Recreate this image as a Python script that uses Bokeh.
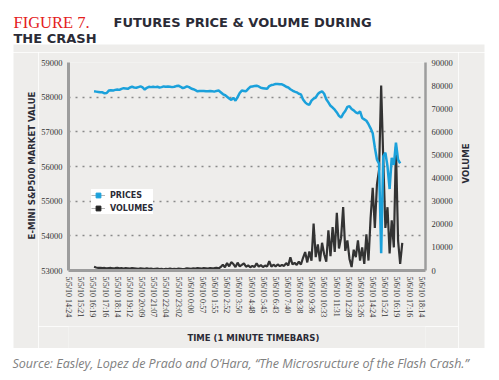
from datetime import datetime
from math import pi

from bokeh.plotting import figure
from bokeh.layouts import row, column
from bokeh.models import (Range1d, LinearAxis, FixedTicker, Label, BoxAnnotation,
                          Legend, LegendItem, NumeralTickFormatter)
from bokeh.embed import file_html
from bokeh.resources import INLINE

# ---------------- data ----------------
tick_labels = [
    "5/5/10 14:24", "5/5/10 15:21", "5/5/10 16:19", "5/5/10 17:16", "5/5/10 18:14",
    "5/5/10 19:12", "5/5/10 20:09", "5/5/10 21:07", "5/5/10 22:04", "5/5/10 23:02",
    "5/6/10 0:00", "5/6/10 0:57", "5/6/10 1:55", "5/6/10 2:52", "5/6/10 3:50",
    "5/6/10 4:48", "5/6/10 5:45", "5/6/10 6:43", "5/6/10 7:40", "5/6/10 8:38",
    "5/6/10 9:36", "5/6/10 10:33", "5/6/10 11:31", "5/6/10 12:28", "5/6/10 13:26",
    "5/6/10 14:24", "5/6/10 15:21", "5/6/10 16:19", "5/6/10 17:16", "5/6/10 18:14",
]
first_bar = "5/5/10 16:24"   # first sampled bar
bar_step_min = 10            # one value every 10 minutes

prices = [
    58170, 58160, 58150, 58140, 58140, 58110, 58120, 58190, 58200, 58190,
    58210, 58220, 58210, 58240, 58260, 58250, 58240, 58280, 58300, 58280,
    58270, 58290, 58310, 58280, 58220, 58270, 58300, 58290, 58300, 58290,
    58300, 58280, 58290, 58310, 58300, 58310, 58300, 58290, 58300, 58320,
    58330, 58300, 58260, 58280, 58310, 58290, 58250, 58230, 58200, 58170,
    58180, 58180, 58180, 58170, 58170, 58180, 58170, 58160, 58180, 58190,
    58140, 58090, 58060, 58010, 57960, 57920, 57980, 57900, 58000, 58120,
    58190, 58180, 58170, 58240, 58300, 58310, 58320, 58330, 58310, 58270,
    58260, 58250, 58240, 58320, 58350, 58360, 58380, 58380, 58370, 58370,
    58340, 58300, 58280, 58230, 58190, 58160, 58140, 58100, 58080, 57930,
    57850, 57800, 57780, 57900, 57960, 57990, 58090, 58140, 58170, 58100,
    57940, 57850, 57750, 57700, 57640, 57560, 57460, 57410, 57520, 57600,
    57720, 57740, 57660, 57620, 57560, 57530, 57590, 57400, 57360, 57320,
    57220, 57100, 56960, 56550, 56200, 56080, 53500, 56290, 56400, 56000,
    55350, 56250, 56050, 56690, 56200, 56090,
]

volumes = [
    1600, 1300, 1100, 1200, 1000, 1100, 900, 1000, 1100, 900,
    1000, 1200, 900, 1000, 800, 1000, 900, 800, 1000, 900,
    800, 700, 900, 800, 700, 900, 700, 800, 600, 700,
    800, 600, 700, 500, 700, 600, 800, 600, 700, 600,
    800, 700, 600, 700, 900, 800, 700, 900, 800, 1000,
    900, 800, 1000, 900, 800, 1100, 900, 1000, 1200, 900,
    1500, 2500, 1400, 3200, 1800, 3600, 2800, 1500, 3400, 1800,
    2400, 3100, 1600, 2200, 1400, 2000, 1500, 3100, 1700, 2300,
    1500, 2100, 1800, 4000, 1700, 2500, 1800, 2600, 1900, 2400,
    2000, 3200, 2200, 5700, 2600, 3300, 2400, 3800, 2600, 5500,
    8000, 3500, 8200, 4200, 20300, 5800, 11300, 4000, 12000, 7000,
    3800, 17400, 6200, 18800, 8000, 25000, 9500, 14000, 27400, 8500,
    13000, 5000, 1500, 9000, 5800, 13000, 4300, 10000, 2900, 15600,
    4300, 22800, 35800, 18400, 37200, 43500, 80000, 47800, 18400, 27400,
    7400, 21700, 10000, 53500, 13000, 2900, 12000,
]

price_ticks = [53000, 54000, 55000, 56000, 57000, 58000, 59000]
volume_ticks = [0, 10000, 20000, 30000, 40000, 50000, 60000, 70000, 80000, 90000]

# ---------------- time axis (minutes since first label) ----------------
FMT = "%m/%d/%y %H:%M"
t0 = datetime.strptime(tick_labels[0], FMT)


def minutes(s):
    return int(round((datetime.strptime(s, FMT) - t0).total_seconds() / 60))


tick_pos = [minutes(s) for s in tick_labels]
start = minutes(first_bar)
vol_t = [start + bar_step_min * i for i in range(len(volumes))]
price_t = vol_t[:len(prices)]
NAN = float("nan")

# ---------------- styling ----------------
BLUE = "#1ba1db"
DARK = "#333333"
INK = "#2b2b36"
PANEL = "#eeedeb"
AXIS = "#9d9d9d"
TICK_FONT = "Liberation Sans Narrow"
HEAD_FONT = "DejaVu Sans"

# page layout (the 8px page margin is built into the strips)
HEAD_H, MID_H, FOOT_H = 52, 296, 24
LEFT_W, MAIN_W, RIGHT_W = 38, 420, 33
TOTAL_W = LEFT_W + MAIN_W + RIGHT_W


def text_fig(w, h, fill):
    """A plain strip whose data space equals its pixel space (y down)."""
    f = figure(width=w, height=h, output_backend="svg", toolbar_location=None,
               x_range=Range1d(0, w), y_range=Range1d(h, 0),
               x_axis_location=None, y_axis_location=None,
               min_border=0, min_border_left=0, min_border_right=0,
               min_border_top=0, min_border_bottom=0)
    f.background_fill_color = fill
    f.border_fill_color = fill
    f.outline_line_color = None
    f.xgrid.visible = False
    f.ygrid.visible = False
    return f


def panel_box(f, left, right, top, bottom):
    f.add_layout(BoxAnnotation(left=left, right=right, top=top, bottom=bottom,
                               fill_color=PANEL, fill_alpha=1, line_color=None,
                               level="underlay"))


def put(f, text, x, y, **kw):
    f.add_layout(Label(text=text, x=x, y=y, **kw))


# ---- header (with the top strip of the grey panel) ----
header = text_fig(TOTAL_W, HEAD_H, "white")
panel_box(header, 13, 484, 44, HEAD_H)
put(header, "FIGURE 7.", 13, 21.5, text_font="Liberation Serif", text_font_size="16.5px",
    text_color="#e4201c", text_baseline="alphabetic")
put(header, "FUTURES PRICE & VOLUME DURING", 113, 21.5, text_font=HEAD_FONT,
    text_font_style="bold", text_font_size="13px", text_color=INK,
    text_baseline="alphabetic")
put(header, "THE CRASH", 13, 38, text_font=HEAD_FONT, text_font_style="bold",
    text_font_size="13px", text_color=INK, text_baseline="alphabetic")

# ---- left / right / bottom label strips ----
leftfig = text_fig(LEFT_W, MID_H, "white")
panel_box(leftfig, 13, LEFT_W, 0, MID_H)
put(leftfig, "E-MINI S&P500 MARKET VALUE", 31, 113, angle=pi / 2, text_font=HEAD_FONT,
    text_font_style="bold", text_font_size="8.5px", text_color=INK,
    text_align="center", text_baseline="middle")

rightfig = text_fig(RIGHT_W, MID_H, "white")
panel_box(rightfig, 0, 26, 0, MID_H)
put(rightfig, "VOLUME", 7, 111, angle=pi / 2, text_font=HEAD_FONT,
    text_font_style="bold", text_font_size="8.5px", text_color=INK,
    text_align="center", text_baseline="middle")

timefig = text_fig(MAIN_W, 22, PANEL)
put(timefig, "TIME (1 MINUTE TIMEBARS)", 217.5, 11, text_font=HEAD_FONT,
    text_font_style="bold", text_font_size="8.5px", text_color=INK,
    text_align="center", text_baseline="alphabetic")

# ---- footer ----
footer = text_fig(TOTAL_W, FOOT_H, "white")
put(footer, "Source: Easley, Lopez de Prado and O\u2019Hara, \u201cThe Microsructure of the Flash Crash.\u201d",
    12, 14.5, text_font="Open Sans", text_font_style="italic", text_font_size="12.5px",
    text_color="#808080", text_baseline="alphabetic")

# ---- main chart ----
p = figure(width=MAIN_W, height=MID_H - 22, output_backend="svg", toolbar_location=None,
           x_range=Range1d(-1, 1690), y_range=Range1d(53000, 59000),
           min_border_left=30, min_border_right=33,
           min_border_top=10, min_border_bottom=56)
p.extra_y_ranges = {"vol": Range1d(0, 90000)}
p.border_fill_color = PANEL
p.background_fill_color = PANEL
p.outline_line_color = None

vol_line = p.line(vol_t, volumes, color=DARK, line_width=2.2, y_range_name="vol")
price_line = p.line(price_t, prices, color=BLUE, line_width=2.5)

# legend keys (a single NaN point each, so nothing shows in the plot)
price_key_line = p.line(x=[NAN], y=[NAN], color="#b5b5b5", line_width=1)
price_key = p.scatter(x=[NAN], y=[NAN], marker="square", size=5, color=BLUE)
vol_key_line = p.line(x=[NAN], y=[NAN], color="#b5b5b5", line_width=1)
vol_key = p.scatter(x=[NAN], y=[NAN], marker="square", size=5, color="#222222")


def style_axis(ax, size, width):
    ax.major_label_text_font = TICK_FONT
    ax.major_label_text_font_size = size
    ax.major_label_text_color = DARK
    ax.major_label_standoff = 6
    ax.axis_line_color = AXIS
    ax.axis_line_width = width
    ax.major_tick_line_color = None
    ax.minor_tick_line_color = None
    ax.major_tick_out = 0
    ax.major_tick_in = 0
    ax.minor_tick_out = 0
    ax.minor_tick_in = 0


xa = p.xaxis[0]
xa.ticker = FixedTicker(ticks=tick_pos)
xa.major_label_overrides = {pos: lab for pos, lab in zip(tick_pos, tick_labels)}
xa.major_label_orientation = "vertical"
style_axis(xa, "8px", 3)

ya = p.yaxis[0]
ya.ticker = FixedTicker(ticks=price_ticks)
ya.formatter = NumeralTickFormatter(format="0")
style_axis(ya, "8.5px", 3)

ra = LinearAxis(y_range_name="vol", ticker=FixedTicker(ticks=volume_ticks),
                formatter=NumeralTickFormatter(format="0"))
style_axis(ra, "8.5px", 2.5)
p.add_layout(ra, "right")

p.xgrid.visible = False
p.ygrid.ticker = FixedTicker(ticks=price_ticks)
p.ygrid.grid_line_color = "#8a8a8a"
p.ygrid.grid_line_width = 1.5
p.ygrid.grid_line_dash = "2 5"

legend = Legend(items=[LegendItem(label="PRICES", renderers=[price_key_line, price_key]),
                       LegendItem(label="VOLUMES", renderers=[vol_key_line, vol_key])],
                location=(23, 56), orientation="vertical",
                background_fill_color="white", background_fill_alpha=1,
                border_line_color=None, label_text_font=HEAD_FONT,
                label_text_font_style="bold", label_text_font_size="8px",
                label_text_color=INK, glyph_width=14, glyph_height=12,
                label_standoff=5, padding=3, spacing=1, margin=0,
                label_height=12)
p.add_layout(legend, "center")

# ---- assemble ----
middle = row(leftfig, column(p, timefig, spacing=0), rightfig, spacing=0)
page = column(header, middle, footer, spacing=0)

open("out.html", "w").write(file_html(page, INLINE))
